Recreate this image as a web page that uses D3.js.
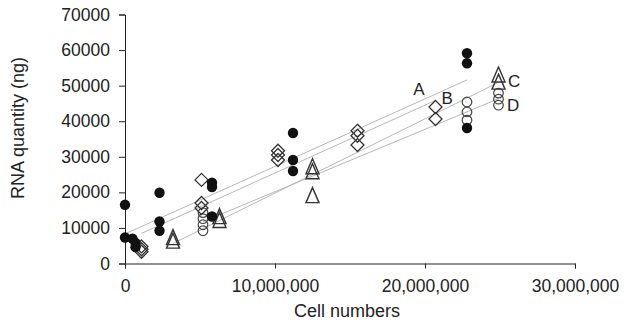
<!DOCTYPE html>
<html>
<head>
<meta charset="utf-8">
<script src="https://cdn.jsdelivr.net/npm/d3@7"></script>
<style>
  html, body { margin: 0; padding: 0; background: #fff; }
  svg { display: block; }
  text { font-family: "Liberation Sans", Arial, sans-serif; fill: #222; }
</style>
</head>
<body>
<svg id="chart" width="637" height="324"></svg>
<script>
// ---- Data ----
// Series A: filled circles
const cellsA = [0, 0, 500000, 700000, 700000, 2300000, 2300000, 2300000, 5800000, 5800000, 5800000, 11200000, 11200000, 11200000, 22800000, 22800000, 22800000];
const rnaA   = [16500, 7300, 7000, 5800, 4600, 19900, 11800, 9200, 22700, 21500, 13200, 36700, 29100, 26000, 59100, 56300, 38100];
// Series B: open diamonds
const cellsB = [1100000, 1100000, 1100000, 5100000, 5100000, 5100000, 10200000, 10200000, 10200000, 15500000, 15500000, 15500000, 20700000, 20700000];
const rnaB   = [4800, 4000, 3300, 23500, 17000, 15600, 31700, 30500, 29100, 37300, 35900, 33300, 44000, 40600];
// Series C: open triangles
const cellsC = [3200000, 3200000, 6300000, 6300000, 12500000, 12500000, 12500000, 24900000, 24900000];
const rnaC   = [7000, 6000, 12900, 11800, 26900, 25500, 18800, 52700, 50700];
// Series D: open circles
const cellsD = [5200000, 5200000, 5200000, 5200000, 22800000, 22800000, 22800000, 24900000, 24900000, 24900000];
const rnaD   = [14300, 12600, 10900, 9200, 45400, 42600, 40300, 47900, 46200, 44500];

const seriesNames = ["A", "B", "C", "D"];
// Line labels, in data units (cells, RNA ng)
const labelCells = [19600000, 21470000, 25530000, 25470000];
const labelRna   = [47300, 44800, 49560, 42840];

const xTicks = [0, 10000000, 20000000, 30000000];
const yTicks = [0, 10000, 20000, 30000, 40000, 50000, 60000, 70000];

// ---- Layout ----
const svg = d3.select("#chart");
const x = d3.scaleLinear().domain([0, 30000000]).range([125, 575]);
const y = d3.scaleLinear().domain([0, 70000]).range([263.5, 14.5]);

const series = [
  { name: "A", xs: cellsA, ys: rnaA, shape: "circleFilled" },
  { name: "B", xs: cellsB, ys: rnaB, shape: "diamond" },
  { name: "C", xs: cellsC, ys: rnaC, shape: "triangle" },
  { name: "D", xs: cellsD, ys: rnaD, shape: "circleOpen" }
];

// least-squares trend line through each series
function fit(xs, ys) {
  const mx = d3.mean(xs), my = d3.mean(ys);
  let sxy = 0, sxx = 0;
  xs.forEach((v, i) => { sxy += (v - mx) * (ys[i] - my); sxx += (v - mx) * (v - mx); });
  const b = sxy / sxx, a = my - b * mx;
  const x0 = d3.min(xs), x1 = d3.max(xs);
  return [[x0, a + b * x0], [x1, a + b * x1]];
}

// trend lines
const lineGen = d3.line().x(d => x(d[0])).y(d => y(d[1]));
svg.append("g").selectAll("path").data(series).join("path")
  .attr("d", s => lineGen(fit(s.xs, s.ys)))
  .attr("fill", "none").attr("stroke", "#b8b8b8").attr("stroke-width", 1);

// axes
const xAxis = d3.axisBottom(x).tickValues(xTicks).tickFormat(d3.format(",")).tickSize(5).tickPadding(11);
const yAxis = d3.axisLeft(y).tickValues(yTicks).tickFormat(d3.format("d")).tickSize(6).tickPadding(9);

const gx = svg.append("g").attr("transform", "translate(0,263.5)").call(xAxis);
const gy = svg.append("g").attr("transform", "translate(125,0)").call(yAxis);
[gx, gy].forEach(g => {
  g.selectAll("path, line").attr("stroke", "#222").attr("stroke-width", 1);
  g.selectAll("text").style("font-size", "17.5px").attr("fill", "#222");
});

// axis titles
svg.append("text").attr("x", 347).attr("y", 317).attr("text-anchor", "middle")
  .style("font-size", "18px").text("Cell numbers");
svg.append("text").attr("transform", "translate(24,128) rotate(-90)").attr("text-anchor", "middle")
  .style("font-size", "18px").text("RNA quantity (ng)");

// markers
const sym = {
  circleFilled: d3.symbol().type(d3.symbolCircle).size(Math.PI * 5.2 * 5.2),
  circleOpen: d3.symbol().type(d3.symbolCircle).size(Math.PI * 4.8 * 4.8),
};
function diamondPath(h) { return `M0,${-h}L${h},0L0,${h}L${-h},0Z`; }
function trianglePath(w, h) { return `M0,${-h * 0.6}L${w / 2},${h * 0.4}L${-w / 2},${h * 0.4}Z`; }

const drawOrder = ["D", "B", "C", "A"];
drawOrder.forEach(n => {
  const s = series.find(d => d.name === n);
  const pts = s.xs.map((v, i) => [v, s.ys[i]]);
  const g = svg.append("g");
  const sel = g.selectAll("path").data(pts).join("path")
    .attr("transform", d => `translate(${x(d[0])},${y(d[1])})`);
  if (s.shape === "circleFilled") {
    sel.attr("d", sym.circleFilled()).attr("fill", "#111").attr("stroke", "none");
  } else if (s.shape === "circleOpen") {
    sel.attr("d", sym.circleOpen()).attr("fill", "none").attr("stroke", "#444").attr("stroke-width", 1.2);
  } else if (s.shape === "diamond") {
    sel.attr("d", diamondPath(6.5)).attr("fill", "none").attr("stroke", "#333").attr("stroke-width", 1.3);
  } else {
    sel.attr("d", trianglePath(13, 15)).attr("fill", "none").attr("stroke", "#333").attr("stroke-width", 1.4);
  }
});

// line labels
svg.append("g").selectAll("text").data(seriesNames).join("text")
  .attr("x", (d, i) => x(labelCells[i]))
  .attr("y", (d, i) => y(labelRna[i]))
  .attr("text-anchor", (d, i) => i < 2 ? "middle" : "start")
  .style("font-size", "17px")
  .text(d => d);
</script>
</body>
</html>
